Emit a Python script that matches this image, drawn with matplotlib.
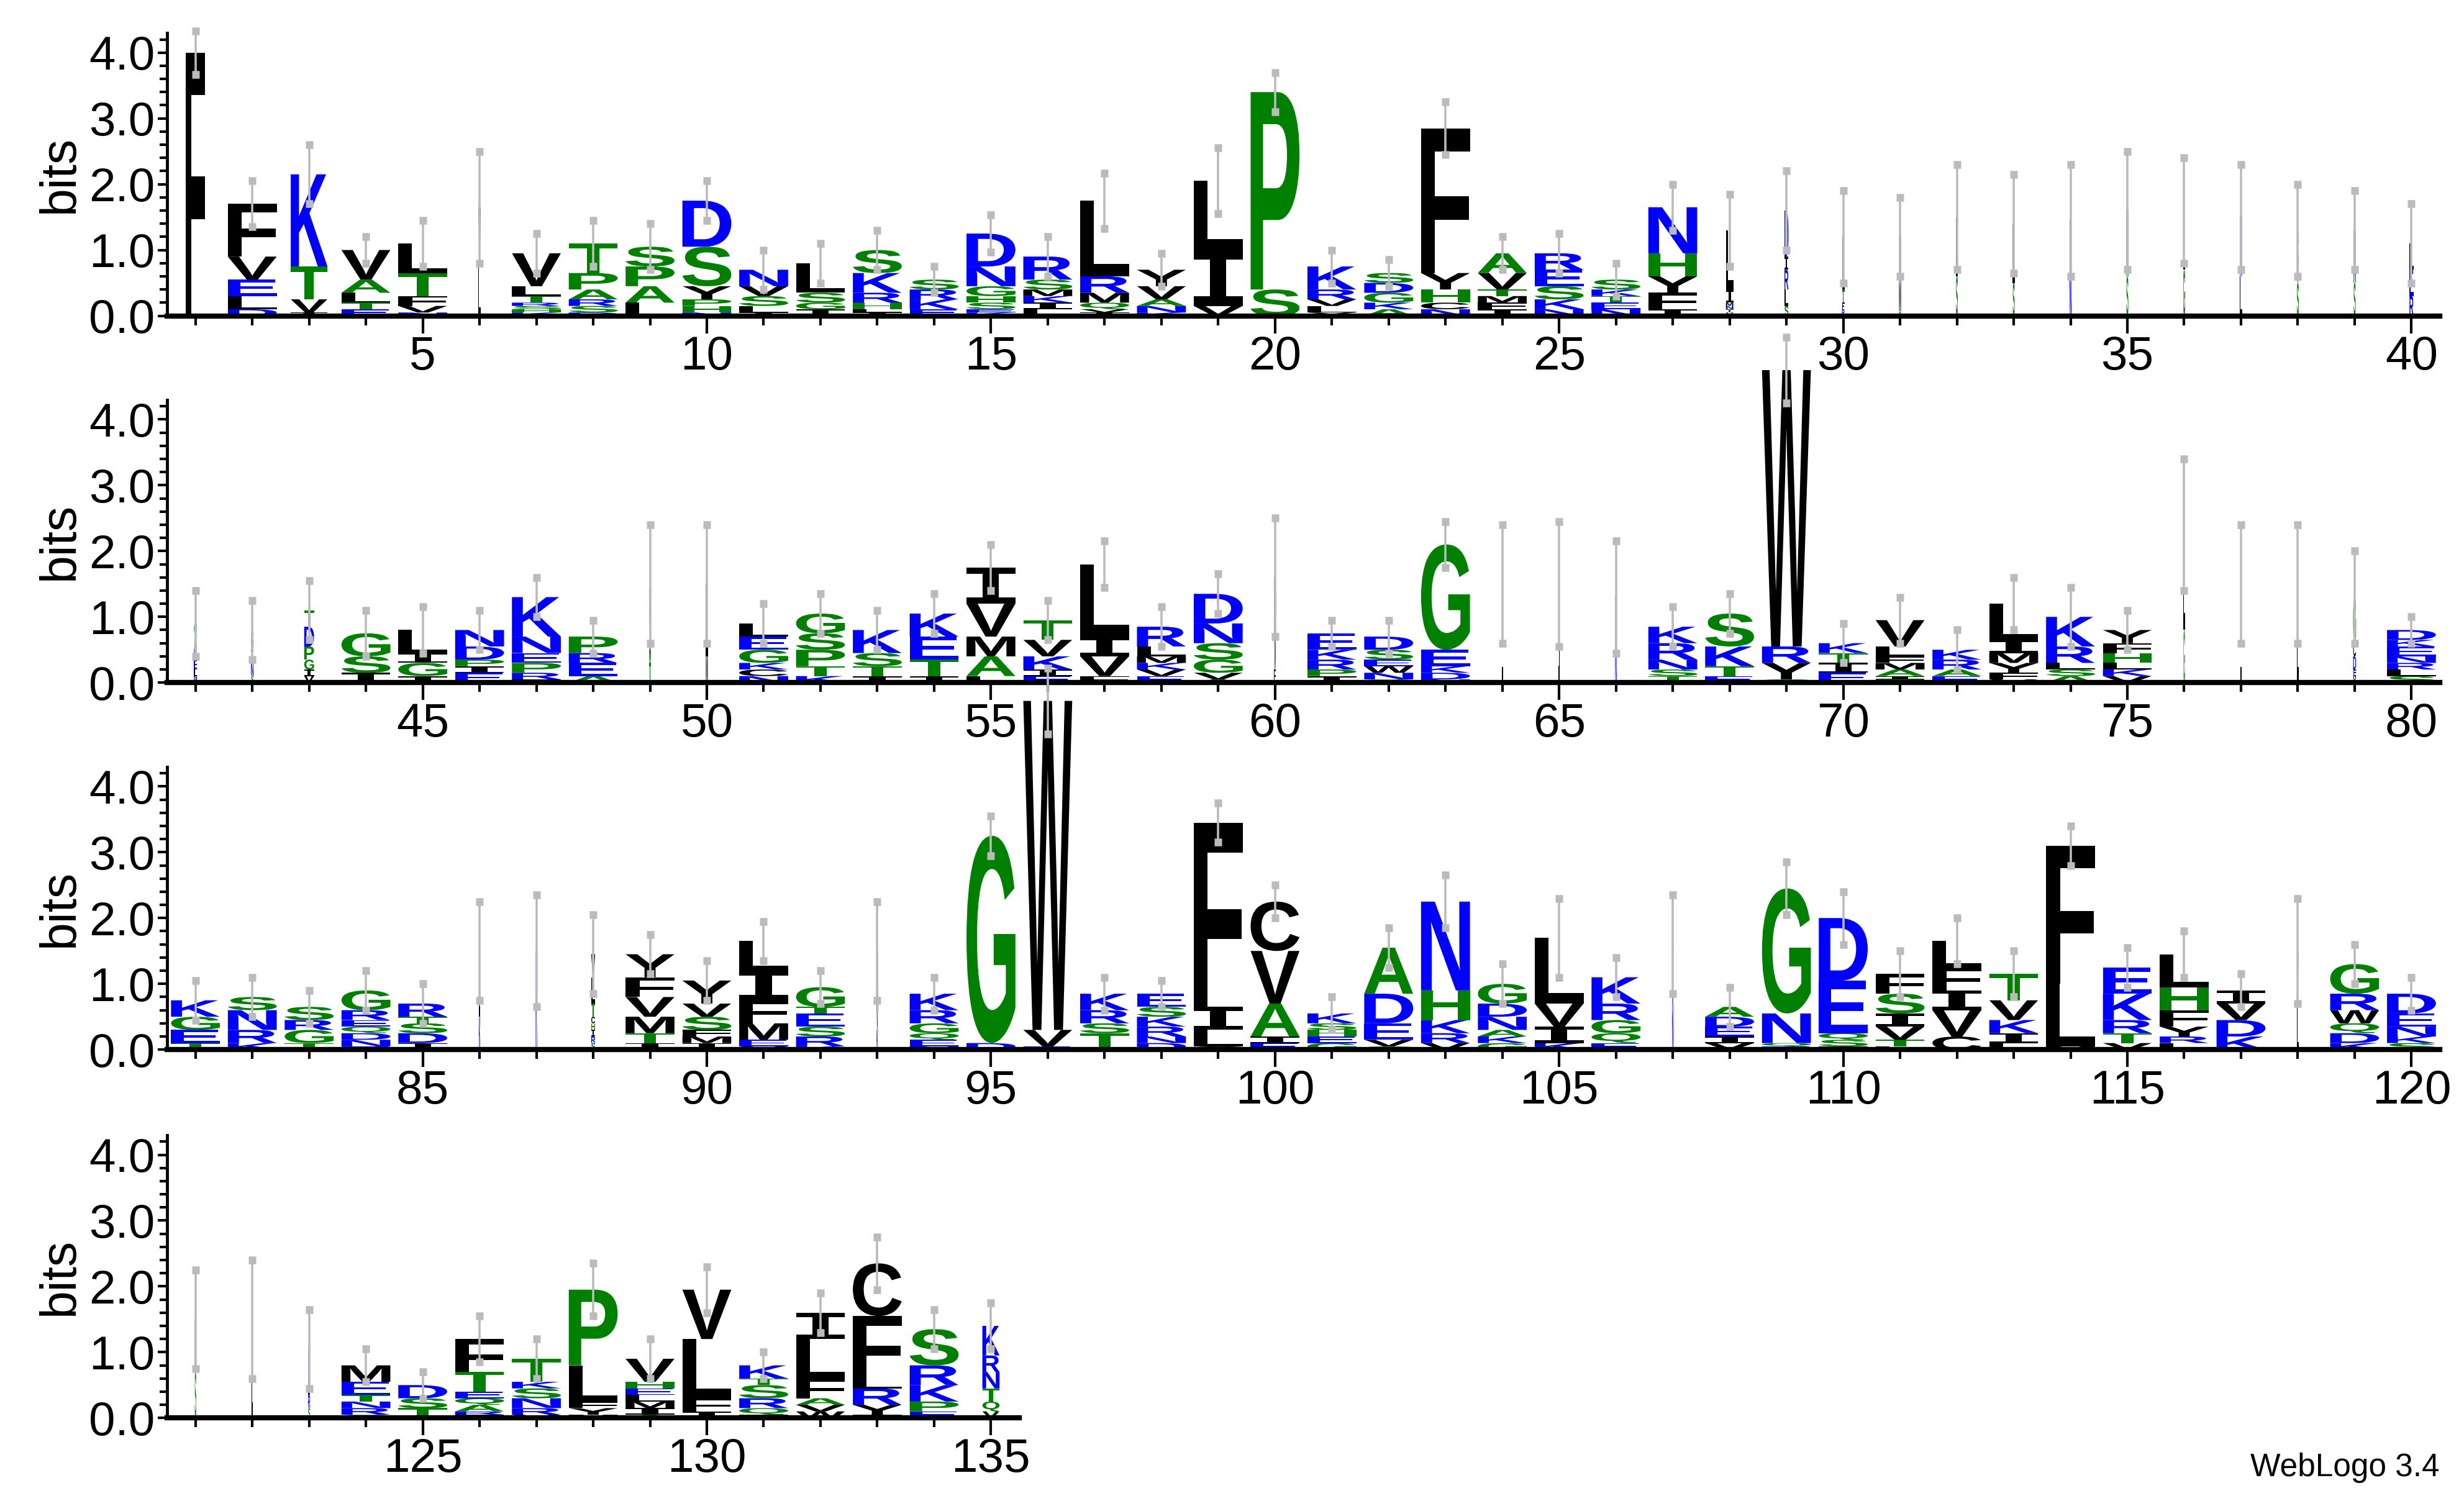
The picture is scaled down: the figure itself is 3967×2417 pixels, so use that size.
import matplotlib
matplotlib.use("Agg")
import matplotlib.pyplot as plt
from matplotlib.textpath import TextPath
from matplotlib.patches import PathPatch
from matplotlib.font_manager import FontProperties
from matplotlib.transforms import Affine2D

# ---- data: per position, letters bottom->top and their heights (bits) ----
stack_letters = [
 "F","DLEVF","IVTK","ETLAV","NVFTL","LV","KHSRTLV","DSRAPT","LAPS","NHPYSD",
 "ILSVN","IGSL","ILHRKS","EKRS","KESHGND","LIKMSR","IVQMRL","KNAVY","VIL","SP",
 "YLVRK","AKGDS","NCHYF","IFMTVA","NKSER","NETKS","IFYHN","VTNMIL","SLRID","RFTL",
 "PMN","SL","SL","NL","SN","GL","LN","SG","SN","REL",
 "TNLEDAQ","SNIG","VIGPDT","ISG","IGIL","EIPDN","IRPENK","AERP","TS","ML",
 "NCKGEL","KTPSG","ITSK","ITEK","LAMVI","EIKVT","FVIL","EVKMLR","AVGSND","EVD",
 "IPRKE","QNWESD","NDKEG","L","I","NK","TSNRK","ETKS","SYRW","EITK",
 "TIAMFLV","EARK","VFYMIL","ASLRK","VKLHFY","GL","L","L","VEDCG","SLRNEKD",
 "TEGK","KRNS","TGRS","ENDQERG","IDSTR","KL","K","SRIHCTLV","ITMVFY","IMFSVY",
 "VEMFIL","KRSETG","KVN","NEQGRK","DG","EVW","TSRK","DNRKSE","CLIF","EIAVC",
 "GEHSK","GVEDA","VRKHN","GKANDG","KIVL","EQGRK","NK","VIEDA","EQNG","ISQED",
 "LTVISF","CVIFL","LIKVT","MLF","VTRKE","LRYFHL","KDVI","LV","KDQWRG","SKNED",
 "SN","L","SRLK","QRNTEM","TSD","IRAQETF","VRNSKT","MYFLP","AIMLEHV","IFLV",
 "IQRSTK","WVAFLI","IYRLFC","EPKRS","VQTNRK",
]
stack_heights = [
 [4.0],[.1,.2,.25,.35,.8],[.05,.2,.5,1.4],[.1,.1,.15,.2,.45],[.05,.1,.15,.35,.45],
 [.8,.85],[.05,.05,.05,.05,.1,.15,.5],[.05,.1,.1,.15,.25,.45],[.2,.25,.3,.3],[.05,.1,.1,.2,.6,.7],
 [.05,.1,.15,.15,.25],[.1,.1,.15,.45],[.05,.05,.1,.15,.3,.35],[.1,.15,.15,.15],[.05,.05,.1,.1,.15,.3,.5],
 [.1,.1,.1,.1,.15,.35],[.05,.05,.1,.15,.25,1.15],[.05,.1,.1,.2,.25],[.15,.85,1.05],[.4,3.0],
 [.05,.1,.1,.15,.35],[.1,.1,.15,.15,.15],[.1,.1,.2,.25,2.2],[.1,.1,.1,.1,.25,.3],[.1,.15,.2,.25,.25],
 [.1,.1,.1,.1,.15],[.1,.25,.25,.35,.7],[.05,.05,.05,.05,.2,.9],[.15,.25,.3,.2,.7],[.1,.1,.2,.8],
 [.1,.4,.7],[.6,.9],[.5,.9],[.6,.85],[.6,1.0],[.7,.9],[.6,.9],[.5,.8],[.5,.8],[.3,.4,.4],
 [.05,.05,.1,.15,.15,.2,.2],[.1,.2,.2,.3],[.1,.1,.15,.2,.3,.25],[.15,.25,.35],[.1,.2,.15,.35],
 [.15,.1,.1,.2,.25],[.05,.1,.15,.15,.25,.6],[.1,.2,.15,.25],[.3,1.2],[.4,1.1],
 [.1,.1,.1,.2,.2,.2],[.1,.15,.25,.25,.3],[.1,.15,.2,.35],[.1,.25,.35,.35],[.1,.3,.3,.5,.55],
 [.1,.1,.2,.25,.3],[.1,.3,.3,1.1],[.1,.1,.1,.1,.15,.3],[.05,.1,.2,.25,.3,.45],[.2,.6,.8],
 [.1,.1,.15,.15,.25],[.05,.1,.1,.1,.15,.2],[.05,.1,.1,.25,1.6],[1.5],[1.5],
 [.5,.8],[.1,.1,.15,.25,.25],[.1,.15,.3,.5],[.05,.25,.25,4.2],[.15,.15,.15,.15],
 [.05,.05,.1,.1,.1,.15,.4],[.1,.1,.15,.15],[.05,.1,.15,.15,.2,.55],[.1,.1,.1,.25,.45],[.1,.1,.1,.15,.15,.2],
 [.8,1.6],[1.5],[1.5],[.1,.1,.2,.2,.7],[.1,.1,.1,.1,.15,.1,.15],
 [.1,.2,.2,.25],[.1,.2,.3,.2],[.1,.2,.15,.2],[.05,.1,.1,.1,.1,.15,.3],[.1,.15,.15,.1,.2],
 [.5,1.0],[1.5],[.1,.1,.1,.1,.1,.2,.4,.35],[.1,.15,.25,.3,.3,.35],[.1,.1,.1,.2,.2,.35],
 [.05,.1,.25,.35,.45,.45],[.05,.15,.15,.2,.1,.3],[.3,.4,.8],[.05,.1,.1,.15,.2,.25],[.1,3.15],
 [.05,.25,5.0],[.25,.15,.2,.25],[.1,.1,.15,.15,.15,.2],[.05,.25,.35,2.8],[.1,.1,.5,.8,.75],
 [.1,.1,.1,.1,.15],[.05,.1,.25,.45,.7],[.1,.15,.2,.45,1.35],[.1,.1,.1,.2,.2,.3],[.1,.25,.35,1.0],
 [.1,.15,.2,.25,.4],[.6,1.0],[.1,.1,.15,.15,.15],[.05,.05,.45,1.9],[.05,.1,.1,.8,.95],
 [.05,.1,.2,.2,.3,.3],[.2,.4,.3,.35,.4],[.1,.15,.2,.3,.4],[.05,.95,2.1],[.1,.15,.2,.4,.4],
 [.1,.1,.15,.25,.35,.5],[.2,.25,.25,.2],[.7,.8],[.1,.15,.15,.2,.25,.45],[.1,.1,.15,.2,.3],
 [.7,.8],[1.5],[.15,.2,.2,.5],[.05,.1,.1,.1,.2,.25],[.15,.15,.2],
 [.05,.05,.1,.1,.1,.3,.5],[.05,.1,.15,.15,.1,.35],[.05,.1,.1,.55,1.15],[.05,.1,.1,.1,.1,.1,.35],[.1,.2,.9,.75],
 [.05,.1,.15,.2,.1,.2],[.1,.1,.1,.3,.6,.4],[.05,.15,.25,.15,.95,.8],[.1,.15,.25,.3,.55],[.1,.15,.2,.25,.25,.45],
]
error_half = [
 .33,.35,.45,.2,.35,.85,.3,.35,.35,.3, .3,.3,.3,.2,.28,.3,.42,.25,.5,.3,
 .25,.2,.4,.25,.3,.25,.35,.55,.6,.7, .6,.8,.75,.85,.9,.8,.8,.7,.6,.6,
 .5,.45,.45,.35,.35,.3,.3,.25,.9,.9, .3,.3,.3,.3,.35,.3,.35,.3,.3,.9,
 .2,.25,.35,.9,.95,.85,.3,.3,.5,.3, .35,.3,.4,.45,.3,1.0,.9,.9,.7,.2,
 .3,.3,.25,.3,.3,.75,.85,.6,.3,.3, .3,.25,.75,.25,.3,.5,.25,.2,.3,.25,
 .25,.3,.4,.3,.6,.3,.75,.3,.4,.4, .35,.35,.35,.3,.3,.35,.25,.8,.3,.25,
 .75,.9,.6,.25,.2,.35,.3,.4,.3,.35, .2,.3,.4,.3,.35,
]
narrow = {1: .4, 3: .75, 6: .05, 28: .15, 29: .08, 30: .05, 31: .04, 32: .04, 33: .04, 34: .04,
          35: .04, 36: .04, 37: .04, 38: .04, 39: .04, 40: .08, 41: .06, 42: .05, 43: .2,
          49: .04, 50: .04, 60: .04, 64: .03, 65: .03, 66: .03, 76: .03, 77: .03, 78: .03,
          79: .06, 86: .03, 87: .03, 88: .08, 93: .03, 107: .03, 118: .03, 121: .03,
          122: .03, 123: .04, 135: .35}

colors = {}
for c in "FLVIWMYC":
    colors[c] = "#000000"
for c in "GSTPAHQ":
    colors[c] = "#008000"
for c in "KRNDE":
    colors[c] = "#0000FF"

fp = FontProperties(family="Liberation Sans", weight="bold")
fp_i = FontProperties(family="DejaVu Sans Mono", weight="bold")
_cache = {}

def letter_path(ch):
    if ch not in _cache:
        _cache[ch] = TextPath((0, 0), ch, size=1, prop=fp_i if ch == "I" else fp)
    return _cache[ch]

def draw_letter(ax, ch, x, y0, h, w, color):
    tp = letter_path(ch)
    bb = tp.get_extents()
    tr = (Affine2D().translate(-bb.x0, -bb.y0)
          .scale(w / bb.width, h / bb.height).translate(x - w / 2, y0))
    ax.add_patch(PathPatch(tr.transform_path(tp), fc=color, ec="none", lw=0,
                           clip_on=False, zorder=2))

W, H = 3967, 2417
fig = plt.figure(figsize=(W / 100, H / 100), dpi=100)
plt.rcParams["font.family"] = ["Liberation Sans", "DejaVu Sans"]

left = 0.0678
full_w = 0.9902 - left
bottoms = [0.7896, 0.5452, 0.3007, 0.0553]
axh = 0.1885
rows = [(1, 40), (41, 80), (81, 120), (121, 135)]

for r, (a, b) in enumerate(rows):
    n = b - a + 1
    ax = fig.add_axes([left, bottoms[r], full_w * n / 40, axh])
    ax.set_xlim(a - 0.5, b + 0.5)
    ax.set_ylim(0, 4.3)
    for p in range(a, b + 1):
        i = p - 1
        wf = narrow.get(p, 1.0)
        y = 0.0
        for ch, h in zip(stack_letters[i], stack_heights[i]):
            if h > 0.005:
                draw_letter(ax, ch, p, y, h, 0.86 * wf, colors[ch])
            y += h
        ax.errorbar([p], [y], yerr=[error_half[i]], fmt="none", ecolor="#BBBBBB",
                    elinewidth=2.6, capsize=4.5, capthick=9, zorder=5, clip_on=False)
    for s in ("top", "right"):
        ax.spines[s].set_visible(False)
    ax.spines["bottom"].set_linewidth(6)
    ax.spines["left"].set_linewidth(3.5)
    majors = [t for t in range(a, b + 1) if t % 5 == 0]
    ax.set_xticks(majors)
    ax.set_xticklabels([str(t) for t in majors], fontsize=55)
    ax.set_xticks(list(range(a, b + 1)), minor=True)
    ax.tick_params(axis="x", which="major", length=20, width=3, pad=3)
    ax.tick_params(axis="x", which="minor", length=11, width=3)
    ax.set_yticks([0, 1, 2, 3, 4])
    ax.set_yticklabels(["0.0", "1.0", "2.0", "3.0", "4.0"], fontsize=55)
    ax.set_yticks([k * 0.2 for k in range(22)], minor=True)
    ax.tick_params(axis="y", which="major", length=11, width=3, pad=3)
    ax.tick_params(axis="y", which="minor", length=9, width=3)
    ax.set_ylabel("bits", fontsize=58, labelpad=6)
    ax.patch.set_alpha(0)

fig.text(0.99, 0.012, "WebLogo 3.4", ha="right", va="bottom", fontsize=37)
fig.savefig("out.png", dpi=100)
